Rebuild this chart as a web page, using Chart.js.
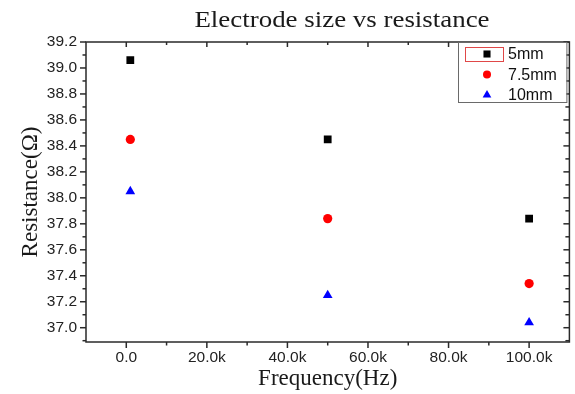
<!DOCTYPE html>
<html>
<head>
<meta charset="utf-8">
<script src="https://cdn.jsdelivr.net/npm/chart.js@4/dist/chart.umd.min.js"></script>
<style>
  html, body { margin: 0; padding: 0; background: #ffffff; }
  #c { display: block; }
</style>
</head>
<body>
<canvas id="c" width="575" height="394"></canvas>
<script>
// ---- data ----
const chartTitle = 'Electrode size vs resistance';
const xTitle = 'Frequency(Hz)';
const yTitle = 'Resistance(\u03A9)';
const frequencies = [1000, 50000, 100000];
const seriesNames = ['5mm', '7.5mm', '10mm'];
const res5mm = [39.06, 38.45, 37.84];
const res75mm = [38.45, 37.84, 37.34];
const res10mm = [38.05, 37.25, 37.04];
const xTickValues = [0, 20000, 40000, 60000, 80000, 100000];
const xTickLabels = ['0.0', '20.0k', '40.0k', '60.0k', '80.0k', '100.0k'];
const yTickValues = [37.0, 37.2, 37.4, 37.6, 37.8, 38.0, 38.2, 38.4, 38.6, 38.8, 39.0, 39.2];
const yTickLabels = ['37.0', '37.2', '37.4', '37.6', '37.8', '38.0', '38.2', '38.4', '38.6', '38.8', '39.0', '39.2'];

const toPoints = vals => vals.map((v, i) => ({ x: frequencies[i], y: v }));

const frameColor = '#2a2a2a';

const decorations = {
  id: 'decorations',
  afterDraw(chart) {
    const { ctx, chartArea: a, scales } = chart;
    const xs = scales.x, ys = scales.y;
    ctx.save();

    // main title
    ctx.fillStyle = '#1a1a1a';
    ctx.font = '23px "Liberation Serif", "Times New Roman", serif';
    ctx.textAlign = 'center';
    ctx.textBaseline = 'alphabetic';
    ctx.save();
    ctx.translate(342, 27);
    ctx.scale(1.17, 1);
    ctx.fillText(chartTitle, 0, 0);
    ctx.restore();

    // frame
    ctx.strokeStyle = frameColor;
    ctx.lineWidth = 1.5;
    ctx.strokeRect(a.left, a.top, a.right - a.left, a.bottom - a.top);

    const line = (x1, y1, x2, y2) => { ctx.beginPath(); ctx.moveTo(x1, y1); ctx.lineTo(x2, y2); ctx.stroke(); };

    // x ticks (outward at bottom, inward at top)
    const xMin = xs.min, xMax = xs.max;
    const xStep = xTickValues[1] - xTickValues[0];
    xTickValues.forEach(v => {
      const p = xs.getPixelForValue(v);
      line(p, a.bottom, p, a.bottom + 6);
      line(p, a.top, p, a.top + 5);
    });
    const xMinor = [];
    for (let v = xTickValues[0] - xStep / 2; v <= xMax; v += xStep) xMinor.push(v);
    xMinor.forEach(v => {
      if (v <= xMin || v >= xMax) return;
      const p = xs.getPixelForValue(v);
      line(p, a.bottom, p, a.bottom + 3.5);
      line(p, a.top, p, a.top + 3);
    });

    // y ticks (outward at left, inward at right)
    const yStep = yTickValues[1] - yTickValues[0];
    yTickValues.forEach(v => {
      const p = ys.getPixelForValue(v);
      line(a.left - 6, p, a.left, p);
      line(a.right - 6, p, a.right, p);
    });
    for (let v = yTickValues[0] - yStep / 2; v < ys.max; v += yStep) {
      if (v <= ys.min) continue;
      const p = ys.getPixelForValue(v);
      line(a.left - 3.5, p, a.left, p);
      line(a.right - 4, p, a.right, p);
    }

    // legend box
    const lb = { left: 458, top: a.top, right: a.right - 3, bottom: 102 };
    ctx.fillStyle = '#ffffff';
    ctx.fillRect(lb.left, lb.top, lb.right - lb.left, lb.bottom - lb.top);
    ctx.strokeStyle = '#6a6a6a';
    ctx.lineWidth = 1;
    ctx.strokeRect(lb.left + 0.5, lb.top + 0.5, lb.right - lb.left, lb.bottom - lb.top);

    const rows = [54, 74.5, 95];
    chart.data.datasets.forEach((ds, i) => {
      ctx.fillStyle = ds.backgroundColor;
      Chart.helpers.drawPoint(ctx, {
        pointStyle: ds.pointStyle,
        radius: ds.legendRadius,
        borderWidth: 0,
        rotation: 0
      }, 487, rows[i]);
      ctx.fillStyle = '#111111';
      ctx.font = '16px "Liberation Sans", Arial, sans-serif';
      ctx.textAlign = 'left';
      ctx.textBaseline = 'middle';
      ctx.fillText(ds.label, 508, rows[i] + 1);
    });
    // selection highlight around first legend symbol
    ctx.beginPath();
    ctx.strokeStyle = '#e04848';
    ctx.lineWidth = 1;
    ctx.strokeRect(465.5, 47.5, 38, 14);

    ctx.restore();
  }
};

const tickFont = { family: '"Liberation Sans", Arial, sans-serif', size: 15.5 };
const titleFont = { family: '"Liberation Serif", "Times New Roman", serif', size: 23 };

new Chart(document.getElementById('c'), {
  type: 'scatter',
  data: {
    datasets: [
      { label: seriesNames[0], data: toPoints(res5mm), pointStyle: 'rect', pointRadius: 5.5, legendRadius: 5,
        backgroundColor: '#000000', borderColor: '#000000', borderWidth: 0 },
      { label: seriesNames[1], data: toPoints(res75mm), pointStyle: 'circle', pointRadius: 4.6, legendRadius: 4,
        backgroundColor: '#ff0000', borderColor: '#ff0000', borderWidth: 0 },
      { label: seriesNames[2], data: toPoints(res10mm), pointStyle: 'triangle', pointRadius: 5.6, legendRadius: 5,
        backgroundColor: '#0000ff', borderColor: '#0000ff', borderWidth: 0 }
    ]
  },
  options: {
    responsive: false,
    animation: false,
    events: [],
    layout: { padding: { top: 42, right: 3, bottom: 0, left: 0 } },
    plugins: {
      legend: { display: false },
      title: { display: false },
      tooltip: { enabled: false }
    },
    scales: {
      x: {
        type: 'linear',
        min: -10000,
        max: 110000,
        afterBuildTicks: s => { s.ticks = xTickValues.map(v => ({ value: v })); },
        afterFit: s => { s.height = 52; },
        grid: { display: false, drawTicks: false },
        border: { display: false },
        ticks: {
          padding: 6,
          color: '#222222',
          font: tickFont,
          maxRotation: 0,
          autoSkip: false,
          callback: (v, i) => xTickLabels[i]
        },
        title: { display: true, text: xTitle, color: '#1a1a1a', font: titleFont, padding: { top: 0, bottom: 1 } }
      },
      y: {
        type: 'linear',
        min: 36.89,
        max: 39.2,
        afterBuildTicks: s => { s.ticks = yTickValues.map(v => ({ value: v })); },
        afterFit: s => { s.width = 86; },
        grid: { display: false, drawTicks: false },
        border: { display: false },
        ticks: {
          padding: 9,
          color: '#222222',
          font: tickFont,
          autoSkip: false,
          callback: (v, i) => yTickLabels[i]
        },
        title: { display: true, text: yTitle, color: '#1a1a1a', font: titleFont, padding: { top: 17, bottom: 0 } }
      }
    }
  },
  plugins: [decorations]
});
</script>
</body>
</html>
